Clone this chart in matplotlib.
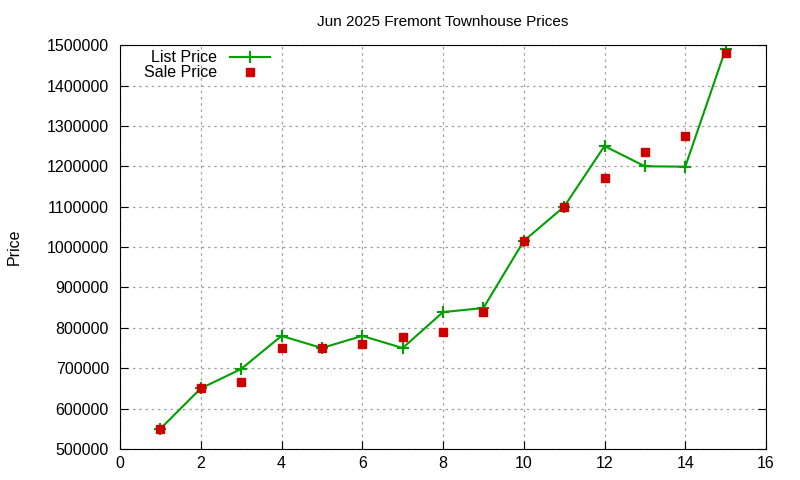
import matplotlib.pyplot as plt

plt.rcParams['font.family'] = ['Liberation Sans', 'DejaVu Sans']

months = [1, 2, 3, 4, 5, 6, 7, 8, 9, 10, 11, 12, 13, 14, 15]
list_price = [550000, 650000, 698000, 780000, 750000, 780000, 750000, 839000,
              849000, 1015000, 1100000, 1250000, 1200000, 1199000, 1490000]
sale_price = [550000, 650000, 665000, 750000, 750000, 760000, 778000, 790000,
              840000, 1015000, 1100000, 1172000, 1235000, 1275000, 1480000]

fig = plt.figure(figsize=(8, 4.8), dpi=100)
ax = fig.add_axes([0.15, 0.0646, 0.8075, 0.8414])

ax.plot(months, list_price, color='#00a000', lw=1.5, marker='+', ms=8, mew=1.5,
        label='List Price')
ax.plot(months, sale_price, ls='none', color='#cc0000', marker='s', ms=6,
        label='Sale Price')

ax.set_xlim(0, 16)
ax.set_ylim(500000, 1500000)
ax.set_xticks(range(0, 17, 2))
ax.set_yticks(range(500000, 1500001, 100000))
ax.ticklabel_format(style='plain', axis='y')
ax.tick_params(direction='in', right=True, labelsize=11.5, length=6)
ax.tick_params(axis='y', pad=8)
ax.tick_params(axis='x', pad=5)
ax.grid(True, color='#a0a0a0', ls=(0, (2, 3)), lw=0.9)
ax.set_title('Jun 2025 Fremont Townhouse Prices', fontsize=11, pad=14)
ax.set_ylabel('Price', fontsize=11.5, labelpad=18)

ax.legend(loc='upper left', bbox_to_anchor=(0.02, 1.015), frameon=False,
          markerfirst=False, fontsize=11.5, handlelength=2.5, borderpad=0.2,
          labelspacing=0.0, handletextpad=0.8)

fig.savefig('out.png')
